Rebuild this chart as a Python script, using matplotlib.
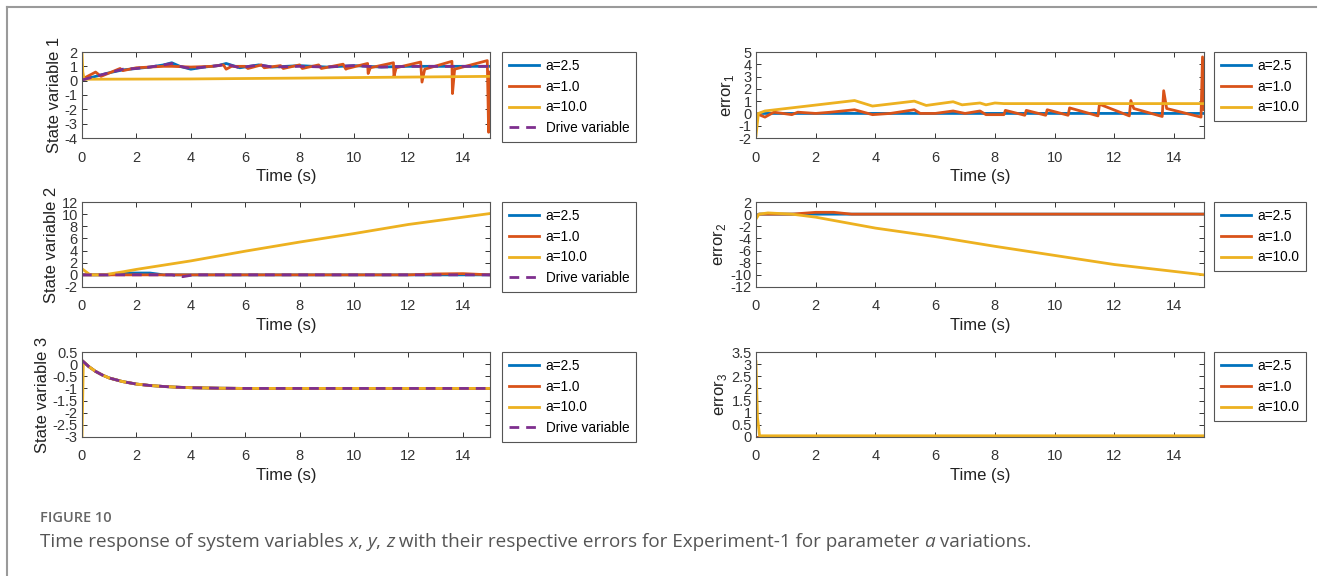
import matplotlib
matplotlib.use("Agg")
import matplotlib.pyplot as plt
from matplotlib.lines import Line2D
import numpy as np

plt.rcParams['font.family'] = ['Liberation Sans', 'DejaVu Sans']
plt.rcParams['mathtext.fontset'] = 'custom'
plt.rcParams['mathtext.rm'] = 'Liberation Sans'

# MATLAB default colours
c_blue = '#0072BD'
c_orange = '#D95319'
c_yellow = '#EDB120'
c_purple = '#7E2F8E'

# ---- State variable 1 ----
x_t_b = [0, 0.5, 1, 1.5, 2, 2.5, 3, 3.3, 3.6, 4, 4.5, 5, 5.3, 5.8, 6.5, 7, 8, 9, 10, 11, 12, 13, 14, 15]
x_b = [0.05, 0.3, 0.55, 0.75, 0.85, 0.95, 1.1, 1.25, 1.0, 0.8, 0.95, 1.05, 1.2, 0.9, 1.1, 0.95, 1.05, 0.95, 1.05, 0.95, 1.0, 1.0, 1.0, 1.0]
x_d = [0.05, 0.3, 0.55, 0.8, 0.85, 0.95, 1.1, 1.2, 1.0, 0.85, 0.95, 1.05, 1.15, 0.9, 1.1, 0.95, 1.0, 0.95, 1.05, 0.95, 1.0, 1.0, 1.0, 1.0]
x_t_o = [0, 0.5, 0.7, 1.4, 1.5, 2.0, 2.5, 3.0, 3.3, 4.0, 4.8, 5.2, 5.3, 5.5, 6.0, 6.1, 6.6, 6.7, 7.3, 7.4,
         8.0, 8.1, 8.7, 8.8, 9.6, 9.7, 9.75, 10.5, 10.52, 10.6, 11.45, 11.47, 11.55, 12.45, 12.5, 12.6,
         13.6, 13.62, 13.7, 14.9, 14.95, 15.0]
x_o = [0.1, 0.6, 0.3, 0.85, 0.7, 0.9, 0.95, 1.0, 1.0, 0.95, 1.0, 1.1, 0.8, 1.0, 1.0, 0.85, 1.1, 0.9, 1.05, 0.85,
       1.1, 0.85, 1.1, 0.85, 1.15, 0.8, 0.85, 1.2, 0.5, 0.9, 1.25, 0.3, 0.9, 1.3, -0.1, 0.8,
       1.35, -0.9, 0.8, 1.4, -3.6, 0.6]
x_t_y = [0, 0.03, 0.08, 4, 8, 12, 15]
x_y = [2, 0.6, 0.1, 0.12, 0.18, 0.25, 0.3]

# ---- error 1 ----
e1_t_b = [0, 0.1, 15]
e1_b = [-0.1, 0, 0]
e1_t_o = [0, 0.3, 0.6, 1.2, 1.4, 2.0, 2.5, 3.3, 3.9, 4.5, 5.3, 5.5, 6.0, 6.6, 7.0, 7.5, 7.7, 8.3, 8.35, 9.0, 9.05,
          9.7, 9.75, 10.45, 10.5, 11.45, 11.5, 12.5, 12.55, 12.65, 13.6, 13.65, 13.75, 14.9, 14.95, 15.0]
e1_o = [0, -0.3, 0.1, -0.1, 0.1, 0, 0.1, 0.3, -0.1, 0, 0.3, 0, 0, 0.2, 0, 0.2, -0.1, -0.1, 0.25, -0.15, 0.25,
        -0.15, 0.3, -0.15, 0.45, -0.2, 0.75, -0.2, 1.05, 0.4, -0.25, 1.85, 0.4, -0.3, 4.6, 0.3]
e1_t_y = [0, 0.08, 0.3, 3.3, 3.9, 5.3, 5.7, 6.6, 6.9, 7.5, 7.7, 8.0, 8.3, 10, 12, 15]
e1_y = [-1.8, 0.0, 0.2, 1.05, 0.6, 1.0, 0.65, 0.95, 0.7, 0.85, 0.7, 0.85, 0.8, 0.8, 0.8, 0.8]

# ---- State variable 2 ----
y_t_b = [0, 1, 1.5, 2.5, 3, 6, 10, 14, 15]
y_b = [0, 0, 0.3, 0.3, 0, 0, 0, 0, 0]
y_t_o = [0, 2, 4, 6, 8, 10, 12, 13, 14, 14.5, 15]
y_o = [0, 0, 0, 0, 0, 0, 0, 0.15, 0.2, 0.1, 0]
y_t_y = [0, 0.3, 0.8, 1.5, 2, 4, 6, 8, 10, 12, 15]
y_y = [1.0, 0.0, 0.0, 0.5, 0.9, 2.3, 3.9, 5.4, 6.8, 8.3, 10.1]
y_t_d = [0, 2, 3.3, 3.7, 4.1, 6, 10, 15]
y_d = [0, 0, 0, -0.3, 0, 0, 0, 0]

# ---- error 2 ----
e2_t_b = [0, 0.1, 15]
e2_b = [-0.3, 0, 0]
e2_t_o = [0, 0.1, 1.2, 2.0, 2.6, 3.2, 5, 8, 12, 15]
e2_o = [-0.5, 0, 0, 0.3, 0.3, 0, 0, 0, 0, 0]
e2_t_y = [0, 0.1, 0.4, 1.2, 2, 4, 6, 8, 10, 12, 15]
e2_y = [-0.8, 0, 0.2, 0.0, -0.5, -2.3, -3.7, -5.3, -6.8, -8.3, -10.0]

# ---- State variable 3 ----
z_t = [0, 0.25, 0.5, 0.75, 1, 1.5, 2, 2.5, 3, 3.5, 4, 5, 6, 8, 10, 12, 15]
z_d = [0.15, -0.1, -0.3, -0.45, -0.57, -0.72, -0.82, -0.88, -0.92, -0.95, -0.97, -0.99, -1, -1, -1, -1, -1]
z_t_y = [0, 0.05, 0.25, 0.5, 0.75, 1, 1.5, 2, 2.5, 3, 3.5, 4, 5, 6, 8, 10, 12, 15]
z_y = [-3.0, 0.1, -0.1, -0.3, -0.45, -0.57, -0.72, -0.82, -0.88, -0.92, -0.95, -0.97, -0.99, -1, -1, -1, -1, -1]

# ---- error 3 ----
e3_t = [0, 15]
e3_b = [0, 0]
e3_o = [0, 0]
e3_t_y = [0, 0.05, 0.12, 15]
e3_y = [3.1, 0.8, 0.05, 0.05]

labels = ['a=2.5', 'a=1.0', 'a=10.0']

fig = plt.figure(figsize=(13.19, 5.76), dpi=100)

xl, wl = 82 / 1319, 408 / 1319
xr, wr = 756 / 1319, 448 / 1319
rows = [(1 - 138 / 576, 86 / 576), (1 - 287 / 576, 85 / 576), (1 - 437 / 576, 85 / 576)]

lw = 2.0
dash = (0, (3.5, 2.5))


def style(ax, ylab, yticks, ylim):
    ax.set_xlim(0, 15)
    ax.set_ylim(*ylim)
    ax.set_xticks(range(0, 15, 2))
    ax.set_yticks(yticks)
    ax.set_yticklabels([('%g' % v) for v in yticks])
    ax.tick_params(direction='in', top=True, right=True, length=3.5, width=0.7,
                   labelsize=10.5, colors='#333333')
    ax.tick_params(axis='x', pad=9)
    ax.tick_params(axis='y', pad=3)
    for s in ax.spines.values():
        s.set_color('#555555')
        s.set_linewidth(0.8)
    ax.set_xlabel('Time (s)', fontsize=12, labelpad=3, color='#222222')
    ax.set_ylabel(ylab, fontsize=12, labelpad=2, color='#222222')


def legend(ax, x):
    leg = ax.legend(loc='upper left', bbox_to_anchor=(x, 1.0), borderaxespad=0,
                    fancybox=False, framealpha=1, edgecolor='#555555', fontsize=9.8,
                    handlelength=2.2, labelspacing=0.5, borderpad=0.5, handletextpad=0.5)
    leg.get_frame().set_linewidth(0.8)


# State variable 1
ax = fig.add_axes([xl, rows[0][0], wl, rows[0][1]])
ax.plot(x_t_b, x_b, color=c_blue, lw=lw, label=labels[0])
ax.plot(x_t_o, x_o, color=c_orange, lw=lw, label=labels[1])
ax.plot(x_t_y, x_y, color=c_yellow, lw=lw, label=labels[2])
ax.plot(x_t_b, x_d, color=c_purple, lw=lw, ls=dash, label='Drive variable')
style(ax, 'State variable 1', np.arange(-4, 3, 1), (-4, 2))
legend(ax, 1.03)

# error 1
ax = fig.add_axes([xr, rows[0][0], wr, rows[0][1]])
ax.plot(e1_t_b, e1_b, color=c_blue, lw=lw, label=labels[0])
ax.plot(e1_t_o, e1_o, color=c_orange, lw=lw, label=labels[1])
ax.plot(e1_t_y, e1_y, color=c_yellow, lw=lw, label=labels[2])
style(ax, r'error$_\mathregular{1}$', np.arange(-2, 6, 1), (-2, 5))
legend(ax, 1.022)

# State variable 2
ax = fig.add_axes([xl, rows[1][0], wl, rows[1][1]])
ax.plot(y_t_b, y_b, color=c_blue, lw=lw, label=labels[0])
ax.plot(y_t_o, y_o, color=c_orange, lw=lw, label=labels[1])
ax.plot(y_t_y, y_y, color=c_yellow, lw=lw, label=labels[2])
ax.plot(y_t_d, y_d, color=c_purple, lw=lw, ls=dash, label='Drive variable')
style(ax, 'State variable 2', np.arange(-2, 13, 2), (-2, 12))
legend(ax, 1.03)

# error 2
ax = fig.add_axes([xr, rows[1][0], wr, rows[1][1]])
ax.plot(e2_t_b, e2_b, color=c_blue, lw=lw, label=labels[0])
ax.plot(e2_t_o, e2_o, color=c_orange, lw=lw, label=labels[1])
ax.plot(e2_t_y, e2_y, color=c_yellow, lw=lw, label=labels[2])
style(ax, r'error$_\mathregular{2}$', np.arange(-12, 3, 2), (-12, 2))
legend(ax, 1.022)

# State variable 3
ax = fig.add_axes([xl, rows[2][0], wl, rows[2][1]])
ax.plot(z_t, z_d, color=c_blue, lw=lw, label=labels[0])
ax.plot(z_t, z_d, color=c_orange, lw=lw, label=labels[1])
ax.plot(z_t_y, z_y, color=c_yellow, lw=lw, label=labels[2])
ax.plot(z_t, z_d, color=c_purple, lw=lw, ls=dash, label='Drive variable')
style(ax, 'State variable 3', np.arange(-3, 0.6, 0.5), (-3, 0.5))
legend(ax, 1.03)

# error 3
ax = fig.add_axes([xr, rows[2][0], wr, rows[2][1]])
ax.plot(e3_t, e3_b, color=c_blue, lw=lw, label=labels[0])
ax.plot(e3_t, e3_o, color=c_orange, lw=lw, label=labels[1])
ax.plot(e3_t_y, e3_y, color=c_yellow, lw=lw, label=labels[2])
style(ax, r'error$_\mathregular{3}$', np.arange(0, 3.6, 0.5), (0, 3.5))
legend(ax, 1.022)

# page frame
W, H = 1319, 576
fig.add_artist(Line2D([7 / W, 7 / W], [0, 1 - 7 / H], color='#9a9a9a', lw=1.5))
fig.add_artist(Line2D([7 / W, 1316 / W], [1 - 7 / H, 1 - 7 / H], color='#9a9a9a', lw=1.5))

# caption
fig.text(40 / W, 1 - 518 / H, 'FIGURE 10', fontsize=10.5, family='Open Sans',
         fontweight='semibold', color='#666666', va='center')

pieces = [('Time response of system variables ', 'normal'), ('x', 'italic'), (', ', 'normal'),
          ('y', 'italic'), (', ', 'normal'), ('z', 'italic'),
          (' with their respective errors for Experiment-1 for parameter ', 'normal'),
          ('a', 'italic'), (' variations.', 'normal')]
renderer = fig.canvas.get_renderer()
xpos = 40
for txt, st in pieces:
    t = fig.text(xpos / W, 1 - 542 / H, txt, fontsize=13.6, family='Open Sans',
                 style=st, color='#555555', va='center')
    bb = t.get_window_extent(renderer)
    xpos += bb.width

fig.savefig('out.png', dpi=100)
